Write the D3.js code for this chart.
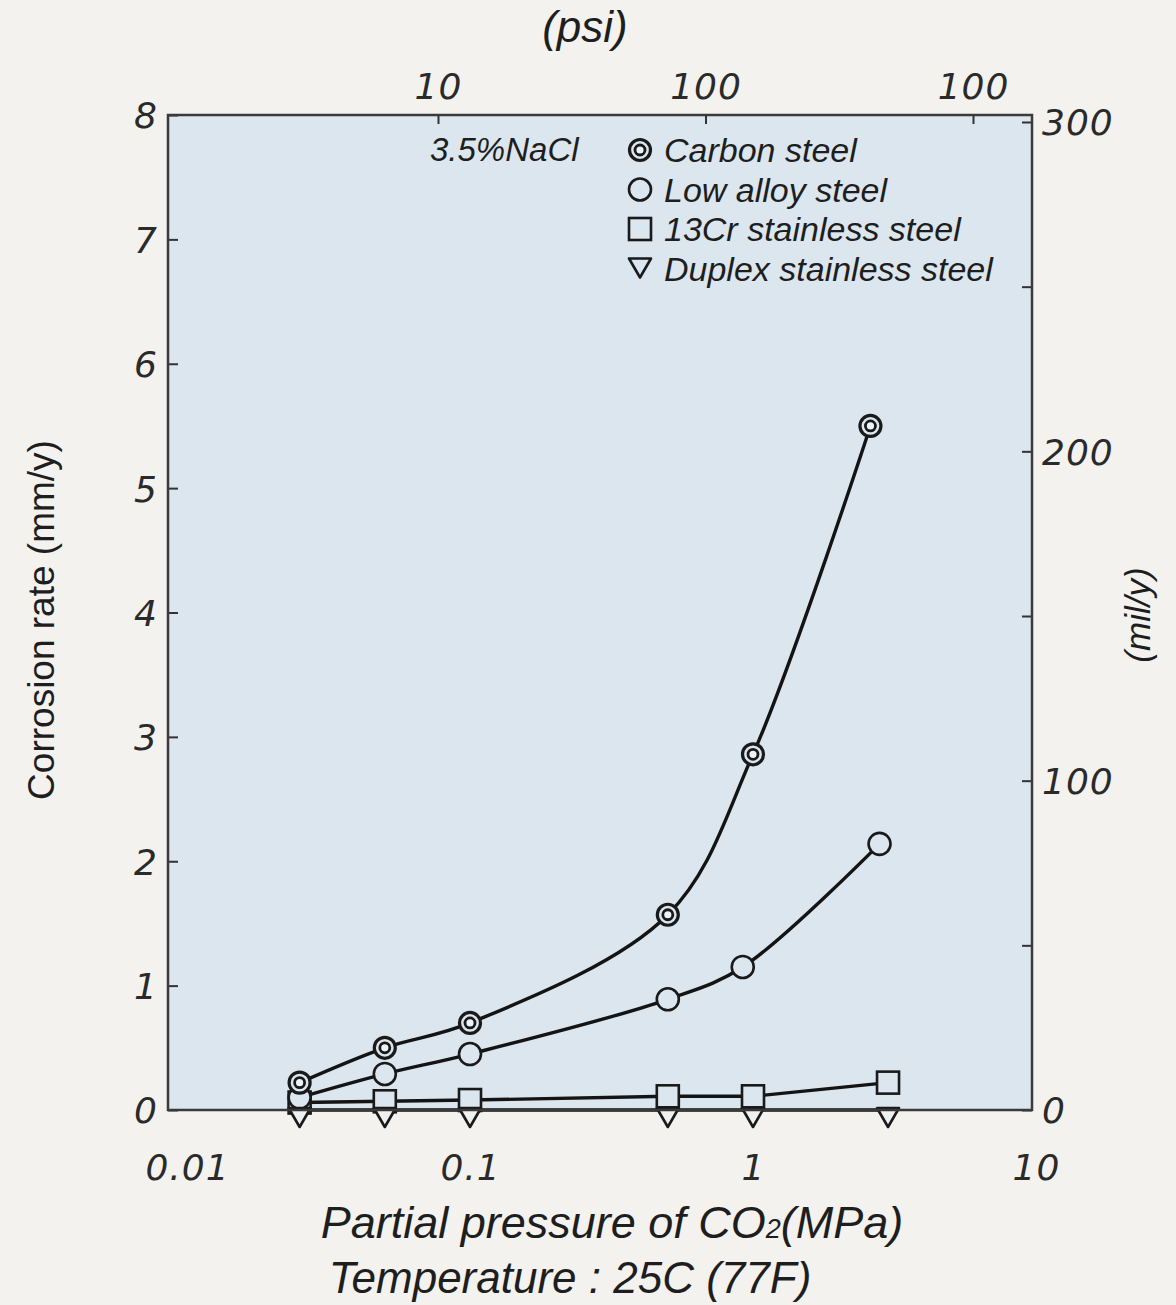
<!DOCTYPE html>
<html>
<head>
<meta charset="utf-8">
<script src="https://cdn.jsdelivr.net/npm/d3@7"></script>
<style>
  body { margin: 0; background: #f3f2ef; }
  svg { display: block; }
  .num { font-family: "DejaVu Sans", sans-serif; font-style: italic; font-size: 36px; fill: #2a2a2a; letter-spacing: 1px; }
  .lab { font-family: "Liberation Sans", Arial, sans-serif; font-style: italic; fill: #1e1e1e; }
</style>
</head>
<body>
<svg width="1176" height="1305"></svg>
<script>
// pressure in MPa for each series
var carbonP = [0.025, 0.05, 0.1, 0.5, 1, 2.6];
var carbonR = [0.22, 0.50, 0.70, 1.57, 2.86, 5.50];
var alloyP = [0.025, 0.05, 0.1, 0.5, 0.92, 2.8];
var alloyR = [0.10, 0.29, 0.45, 0.89, 1.15, 2.14];
var cr13P = [0.025, 0.05, 0.1, 0.5, 1, 3];
var cr13R = [0.06, 0.07, 0.08, 0.11, 0.11, 0.22];
var duplexP = [0.025, 0.05, 0.1, 0.5, 1, 3];
var duplexR = [0, 0, 0, 0, 0, 0];

var mmTicks = [0, 1, 2, 3, 4, 5, 6, 7, 8];
var milTicks = [0, 50, 100, 150, 200, 250, 300];
var milLabels = ["0", "", "100", "", "200", "", "300"];
var mpaTicks = [0.01, 0.1, 1, 10];
var mpaLabels = ["0.01", "0.1", "1", "10"];
var psiTicks = [10, 100, 1000];
var psiLabels = ["10", "100", "100"];

var svg = d3.select("svg");
var pLeft = 168, pRight = 1032, pTop = 115, pBottom = 1110;
var bg = "#dbe6ee";

var x = d3.scaleLog().domain([0.01, 10]).range([187, 1036]);
var y = d3.scaleLinear().domain([0, 8]).range([pBottom, pTop]);
var yMil = d3.scaleLinear().domain([0, 300]).range([pBottom, 122]);
var xPsi = d3.scaleLog().domain([10, 1000]).range([438, 973]);

// plot area
svg.append("rect")
    .attr("x", pLeft).attr("y", pTop)
    .attr("width", pRight - pLeft).attr("height", pBottom - pTop)
    .attr("fill", bg);

// left axis
var gl = svg.append("g")
    .attr("transform", "translate(" + pLeft + ",0)")
    .call(d3.axisLeft(y).tickValues(mmTicks).tickSize(-10).tickPadding(10));
gl.selectAll("text").attr("class", "num").attr("dy", "0.36em");

// right axis
var gr = svg.append("g")
    .attr("transform", "translate(" + pRight + ",0)")
    .call(d3.axisRight(yMil).tickValues(milTicks).tickSize(-10).tickPadding(10)
        .tickFormat(function(d, i) { return milLabels[i]; }));
gr.selectAll("text").attr("class", "num").attr("dy", "0.36em");

// top axis (psi)
var gt = svg.append("g")
    .attr("transform", "translate(0," + pTop + ")")
    .call(d3.axisTop(xPsi).tickValues(psiTicks).tickSize(-9).tickPadding(16)
        .tickFormat(function(d, i) { return psiLabels[i]; }));
gt.selectAll("text").attr("class", "num");

// bottom axis (MPa), labels only
var gb = svg.append("g")
    .attr("transform", "translate(0," + pBottom + ")")
    .call(d3.axisBottom(x).tickValues(mpaTicks).tickSize(0).tickPadding(70)
        .tickFormat(function(d, i) { return mpaLabels[i]; }));
gb.selectAll("text").attr("class", "num").attr("dy", "0");
[gl, gr, gt, gb].forEach(function(g) {
    g.select(".domain").remove();
    g.selectAll("line").attr("stroke", "#333").attr("stroke-width", 2);
});

function pairs(p, r) { return p.map(function(v, i) { return [v, r[i]]; }); }

var series = [
    { name: "duplex", data: pairs(duplexP, duplexR), curve: d3.curveLinear },
    { name: "cr13", data: pairs(cr13P, cr13R), curve: d3.curveLinear },
    { name: "alloy", data: pairs(alloyP, alloyR), curve: d3.curveCatmullRom.alpha(0.5) },
    { name: "carbon", data: pairs(carbonP, carbonR), curve: d3.curveCatmullRom.alpha(0.5) }
];

svg.selectAll(".series")
    .data(series)
    .enter().append("path")
    .attr("class", "series")
    .attr("d", function(d) {
        return d3.line()
            .x(function(p) { return x(p[0]); })
            .y(function(p) { return y(p[1]); })
            .curve(d.curve)(d.data);
    })
    .attr("fill", "none")
    .attr("stroke", "#141414")
    .attr("stroke-width", 3.4);

function drawMarker(g, type, cx, cy, fill) {
    var s = "#1a1a1a";
    if (type === "carbon") {
        g.append("circle").attr("cx", cx).attr("cy", cy).attr("r", 10.5)
            .attr("fill", fill).attr("stroke", s).attr("stroke-width", 3.2);
        g.append("circle").attr("cx", cx).attr("cy", cy).attr("r", 5)
            .attr("fill", "#eef3f7").attr("stroke", s).attr("stroke-width", 2.8);
    } else if (type === "alloy") {
        g.append("circle").attr("cx", cx).attr("cy", cy).attr("r", 11)
            .attr("fill", fill).attr("stroke", s).attr("stroke-width", 2.6);
    } else if (type === "cr13") {
        g.append("rect").attr("x", cx - 11).attr("y", cy - 11)
            .attr("width", 22).attr("height", 22)
            .attr("fill", fill).attr("stroke", s).attr("stroke-width", 2.6);
    } else {
        // downward triangle hanging just under the point
        var w = 11;
        g.append("path")
            .attr("d", "M" + (cx - w) + "," + (cy - 2) + "L" + (cx + w) + "," + (cy - 2) +
                "L" + cx + "," + (cy + 17) + "Z")
            .attr("fill", fill).attr("stroke", s).attr("stroke-width", 2.6)
            .attr("stroke-linejoin", "round");
    }
}

var mk = svg.append("g");
series.slice(1).concat(series.slice(0, 1)).forEach(function(sr) {
    sr.data.forEach(function(d) {
        drawMarker(mk, sr.name, x(d[0]), y(d[1]), sr.name === "duplex" ? "#eef1f2" : bg);
    });
});

// frame
svg.append("rect")
    .attr("x", pLeft).attr("y", pTop)
    .attr("width", pRight - pLeft).attr("height", pBottom - pTop)
    .attr("fill", "none").attr("stroke", "#3a3a3a").attr("stroke-width", 2.5);

// legend
var legendNames = ["Carbon steel", "Low alloy steel", "13Cr stainless steel", "Duplex stainless steel"];
var legendTypes = ["carbon", "alloy", "cr13", "duplex"];
var lg = svg.append("g");
lg.append("text").attr("class", "lab").attr("x", 430).attr("y", 161)
    .style("font-size", "33px").text("3.5%NaCl");
legendNames.forEach(function(n, i) {
    var ly = 150 + i * 39.5;
    drawMarker(lg, legendTypes[i], 640, ly + (legendTypes[i] === "duplex" ? -8 : 0), bg);
    lg.append("text").attr("class", "lab").attr("x", 664).attr("y", ly + 12)
        .style("font-size", "34px").text(n);
});

// titles
svg.append("text").attr("class", "lab").attr("x", 585).attr("y", 42)
    .attr("text-anchor", "middle").style("font-size", "44px").text("(psi)");

svg.append("text")
    .attr("transform", "translate(54,620) rotate(-90)")
    .attr("text-anchor", "middle")
    .style("font-family", "Liberation Sans, Arial, sans-serif")
    .style("font-size", "37px").style("fill", "#1e1e1e")
    .text("Corrosion rate (mm/y)");

svg.append("text").attr("class", "lab")
    .attr("transform", "translate(1150,615) rotate(-90)")
    .attr("text-anchor", "middle").style("font-size", "35px").text("(mil/y)");

var t1 = svg.append("text").attr("class", "lab").attr("x", 612).attr("y", 1238)
    .attr("text-anchor", "middle").style("font-size", "45px");
t1.append("tspan").text("Partial pressure of CO");
t1.append("tspan").style("font-size", "27px").text("2");
t1.append("tspan").text("(MPa)");

svg.append("text").attr("class", "lab").attr("x", 570).attr("y", 1293)
    .attr("text-anchor", "middle").style("font-size", "44px")
    .text("Temperature : 25C (77F)");
</script>
</body>
</html>
